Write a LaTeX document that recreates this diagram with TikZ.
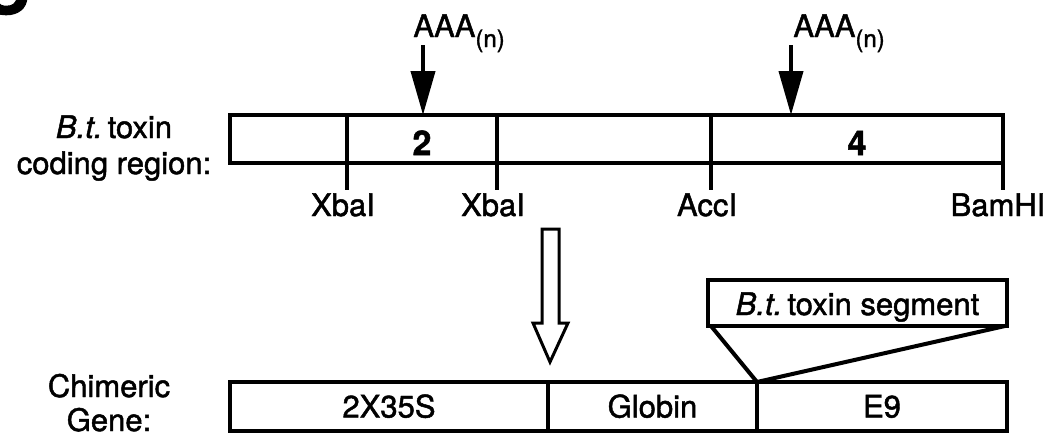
\documentclass[tikz,border=0pt]{standalone}
\usepackage{fontspec}
\setmainfont{TeX Gyre Heros}[FakeBold=1.5]
\usetikzlibrary{arrows.meta,positioning}
\newcommand{\labelsize}{\fontsize{15.5}{18}\selectfont}
\newcommand{\subsize}{\fontsize{12}{14}\selectfont}
\tikzset{
    map line/.style={
        line width=2pt,
        black
    },
    map cell/.style={
        draw, map line, inner sep=0pt, outer sep=0pt,
        minimum height=24pt, text height=16pt, text depth=0pt,
        font=\fontsize{17}{20}\selectfont\bfseries
    },
    gene cell/.style={
        draw, map line, inner sep=0pt, outer sep=0pt,
        minimum height=24.5pt, text height=11pt, text depth=0pt,
        font=\labelsize
    },
    site label/.style={
        anchor=base, inner sep=0pt
    },
    polyA arrow/.style={
        line width=2pt,
        -{Triangle[length=22pt, width=12pt]}
    },
    fusion arrow/.style={
        line width=1.5pt,
        fill=white
    }
}

\begin{document}
\begin{tikzpicture}[x=0.5pt, y=-0.5pt, font=\labelsize]
    \useasboundingbox (0,0) rectangle (1055,434);

    % panel letter
    \node[anchor=base east, inner sep=0pt, font=\fontsize{34}{34}\selectfont\bfseries] (panel) at (30,14) {C};

    % B.t. toxin coding region
    \node[anchor=base, inner sep=0pt] (cr1) at (114,138) {\textit{B.t.}\,toxin};
    \node[anchor=base, inner sep=0pt] (cr2) at (114,174) {coding region:};

    \node[map cell, minimum width=58.5pt, anchor=north west] (c1) at (230,115) {};
    \node[map cell, minimum width=75pt, right=0pt of c1] (c2) {2};
    \node[map cell, minimum width=107pt, right=0pt of c2] (c3) {};
    \node[map cell, minimum width=146pt, right=0pt of c3] (c4) {4};

    \draw[map line] (c1.north east) -- ++(0,75) coordinate (s1);
    \draw[map line] (c2.north east) -- ++(0,75) coordinate (s2);
    \draw[map line] (c3.north east) -- ++(0,75) coordinate (s3);
    \draw[map line] (c4.north east) -- ++(0,75) coordinate (s4);

    \node[site label] (xba1) at (343,216) {XbaI};
    \node[site label] (xba2) at (493,216) {XbaI};
    \node[site label] (acc) at (707,216) {AccI};
    \node[site label] (bam) at (998,216) {BamHI};

    % polyadenylation signals
    \coordinate (pa1) at (423,45);
    \coordinate (pa2) at (791,45);
    \draw[polyA arrow] (pa1) -- (pa1 |- c2.north);
    \draw[polyA arrow] (pa2) -- (pa2 |- c4.north);
    \node[anchor=base west, inner sep=0pt] (aaa1) at (413,37) {AAA\raisebox{-5pt}{\subsize (n)}};
    \node[anchor=base west, inner sep=0pt] (aaa2) at (793,37) {AAA\raisebox{-5pt}{\subsize (n)}};

    % open arrow
    \draw[fusion arrow] (542,229) -- (559,229) -- (559,323) -- (568,323)
        -- (550,362) -- (533,323) -- (542,323) -- cycle;

    % chimeric gene
    \node[anchor=base, inner sep=0pt] (cg1) at (109,397) {Chimeric};
    \node[anchor=base, inner sep=0pt] (cg2) at (109,431) {Gene:};

    \node[gene cell, minimum width=159pt, anchor=north west] (g1) at (230,382) {2X35S};
    \node[gene cell, minimum width=104.5pt, right=0pt of g1] (g2) {Globin};
    \node[gene cell, minimum width=125pt, right=0pt of g2] (g3) {E9};

    \node[gene cell, minimum width=149.5pt, minimum height=23pt, text height=12pt] (seg) at (857.5,303) {\textit{B.t.}\,toxin segment};
    \draw[map line] ([xshift=1.5pt]seg.south west) -- (g2.north east) -- ([xshift=-1pt]seg.south east);
\end{tikzpicture}
\end{document}
